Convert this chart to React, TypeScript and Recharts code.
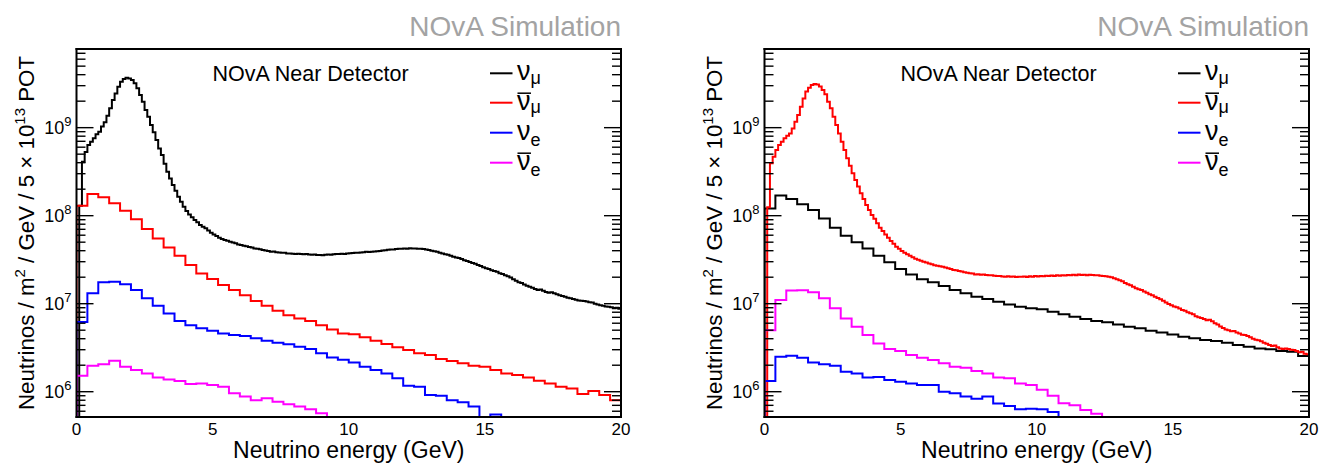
import React from 'react';
import { LineChart, Line, XAxis, YAxis } from 'recharts';

// ---------- axis ranges & ticks ----------
const Y_MIN = 5.16e5;
const Y_MAX = 7.83e9;
const E_MAX = 20;
const FINE_BIN = 0.1;
const COARSE_BIN = 0.4;

const xLabelTicks = [0, 5, 10, 15, 20];
const xMarkTicks = [0, 1, 2, 3, 4, 5, 6, 7, 8, 9, 10, 11, 12, 13, 14, 15, 16, 17, 18, 19, 20];
const yLabelTicks = [1e6, 1e7, 1e8, 1e9];
const yMarkTicks = [
  6e5, 7e5, 8e5, 9e5,
  1e6, 2e6, 3e6, 4e6, 5e6, 6e6, 7e6, 8e6, 9e6,
  1e7, 2e7, 3e7, 4e7, 5e7, 6e7, 7e7, 8e7, 9e7,
  1e8, 2e8, 3e8, 4e8, 5e8, 6e8, 7e8, 8e8, 9e8,
  1e9, 2e9, 3e9, 4e9, 5e9, 6e9, 7e9,
];

// ---------- texts ----------
const simLabel = 'NOvA Simulation';
const detectorLabel = 'NOvA Near Detector';
const xTitle = 'Neutrino energy (GeV)';
const legendEntries = [
  { base: 'ν', sub: 'μ', anti: false, color: '#000000' },
  { base: 'ν', sub: 'μ', anti: true, color: '#ff0000' },
  { base: 'ν', sub: 'e', anti: false, color: '#0000ff' },
  { base: 'ν', sub: 'e', anti: true, color: '#ff00ff' },
];

// ---------- FHC (left) ----------
const fhcNumu = [
  2.0e5, 1.3e8, 4.1e8, 5.3e8, 6.35e8, 6.9e8, 7.6e8, 8.4e8, 9.0e8, 1.03e9,
  1.15e9, 1.37e9, 1.66e9, 2.06e9, 2.45e9, 2.92e9, 3.33e9, 3.57e9, 3.70e9, 3.63e9,
  3.48e9, 3.19e9, 2.8e9, 2.35e9, 1.97e9, 1.59e9, 1.33e9, 1.07e9, 8.85e8, 7.24e8,
  5.8e8, 4.9e8, 3.9e8, 3.16e8, 2.65e8, 2.23e8, 1.92e8, 1.64e8, 1.44e8, 1.26e8,
  1.13e8, 1.03e8, 9.57e7, 8.93e7, 8.4e7, 7.83e7, 7.5e7, 7.18e7, 6.8e7, 6.41e7,
  6.13e7, 5.87e7, 5.62e7, 5.45e7, 5.3e7, 5.2e7, 5.05e7, 4.95e7, 4.85e7, 4.72e7,
  4.65e7, 4.55e7, 4.5e7, 4.42e7, 4.35e7, 4.25e7, 4.2e7, 4.15e7, 4.08e7, 4.03e7,
  3.98e7, 3.9e7, 3.93e7, 3.85e7, 3.82e7, 3.78e7, 3.8e7, 3.73e7, 3.72e7, 3.7e7,
  3.68e7, 3.7e7, 3.66e7, 3.65e7, 3.67e7, 3.62e7, 3.6e7, 3.62e7, 3.57e7, 3.58e7,
  3.55e7, 3.6e7, 3.62e7, 3.6e7, 3.65e7, 3.66e7, 3.68e7, 3.7e7, 3.68e7, 3.72e7,
  3.75e7, 3.77e7, 3.8e7, 3.78e7, 3.82e7, 3.85e7, 3.88e7, 3.86e7, 3.9e7, 3.93e7,
  3.95e7, 3.98e7, 4.02e7, 4.05e7, 4.1e7, 4.14e7, 4.12e7, 4.17e7, 4.2e7, 4.22e7,
  4.25e7, 4.22e7, 4.26e7, 4.24e7, 4.25e7, 4.22e7, 4.2e7, 4.18e7, 4.12e7, 4.08e7,
  4.0e7, 3.95e7, 3.88e7, 3.8e7, 3.73e7, 3.65e7, 3.6e7, 3.5e7, 3.42e7, 3.35e7,
  3.3e7, 3.22e7, 3.12e7, 3.05e7, 2.98e7, 2.9e7, 2.85e7, 2.75e7, 2.68e7, 2.6e7,
  2.52e7, 2.48e7, 2.4e7, 2.35e7, 2.3e7, 2.22e7, 2.18e7, 2.1e7, 2.05e7, 1.98e7,
  1.9e7, 1.82e7, 1.75e7, 1.72e7, 1.65e7, 1.6e7, 1.56e7, 1.52e7, 1.47e7, 1.43e7,
  1.45e7, 1.4e7, 1.36e7, 1.33e7, 1.35e7, 1.31e7, 1.28e7, 1.25e7, 1.22e7, 1.2e7,
  1.17e7, 1.15e7, 1.13e7, 1.11e7, 1.09e7, 1.08e7, 1.07e7, 1.06e7, 1.04e7, 1.03e7,
  1.0e7, 9.8e6, 9.6e6, 9.5e6, 9.3e6, 9.25e6, 9.1e6, 8.9e6, 9.0e6, 8.75e6,
];
const fhcNumubar = [
  1.30e8, 1.76e8, 1.62e8, 1.38e8, 1.14e8, 9.1e7, 7.05e7, 5.5e7, 4.36e7, 3.5e7,
  2.75e7, 2.21e7, 1.91e7, 1.63e7, 1.43e7, 1.25e7, 1.07e7, 9.5e6, 8.3e6, 7.4e6,
  6.8e6, 6.35e6, 5.7e6, 5.1e6, 4.6e6, 4.5e6, 4.15e6, 3.8e6, 3.48e6, 3.19e6,
  2.97e6, 2.73e6, 2.61e6, 2.35e6, 2.23e6, 2.1e6, 1.97e6, 1.92e6, 1.76e6, 1.61e6,
  1.55e6, 1.45e6, 1.33e6, 1.24e6, 1.14e6, 1.09e6, 9.4e5, 1.02e6, 9.2e5, 8.0e5,
];
const fhcNue = [
  6.2e6, 1.31e7, 1.75e7, 1.78e7, 1.66e7, 1.43e7, 1.15e7, 9.5e6, 7.76e6, 6.35e6,
  5.7e6, 5.25e6, 4.93e6, 4.6e6, 4.4e6, 4.3e6, 4.04e6, 3.8e6, 3.6e6, 3.45e6,
  3.25e6, 3.05e6, 2.73e6, 2.45e6, 2.3e6, 2.15e6, 1.92e6, 1.76e6, 1.61e6, 1.42e6,
  1.17e6, 1.14e6, 9.2e5, 9.0e5, 8.0e5, 7.6e5, 6.8e5, 4.6e5, 5.5e5, 4.2e5,
  3.9e5, 3.6e5, 3.3e5, 3.1e5, 2.8e5, 2.6e5, 2.4e5, 2.2e5, 2.0e5, 1.8e5,
];
const fhcNuebar = [
  1.52e6, 1.97e6, 2.05e6, 2.25e6, 1.92e6, 1.76e6, 1.61e6, 1.45e6, 1.38e6, 1.32e6,
  1.22e6, 1.24e6, 1.19e6, 1.14e6, 9.6e5, 8.8e5, 8.0e5, 8.4e5, 7.7e5, 7.2e5,
  6.8e5, 6.3e5, 5.7e5, 5.0e5, 4.7e5, 4.4e5, 4.2e5, 4.0e5, 3.7e5, 3.5e5,
  3.3e5, 3.1e5, 2.9e5, 2.8e5, 2.6e5, 2.5e5, 2.3e5, 2.2e5, 2.0e5, 1.9e5,
  1.8e5, 1.7e5, 1.6e5, 1.5e5, 1.4e5, 1.3e5, 1.2e5, 1.1e5, 1.0e5, 9.0e4,
];

// ---------- RHC (right) ----------
const rhcNumu = [
  1.21e8, 1.69e8, 1.55e8, 1.35e8, 1.16e8, 9.3e7, 7.3e7, 5.93e7, 4.98e7, 4.25e7,
  3.5e7, 2.95e7, 2.48e7, 2.15e7, 1.9e7, 1.75e7, 1.59e7, 1.43e7, 1.31e7, 1.2e7,
  1.13e7, 1.05e7, 9.8e6, 9.25e6, 8.85e6, 8.63e6, 8.1e6, 7.57e6, 7.1e6, 6.7e6,
  6.36e6, 6.14e6, 5.82e6, 5.48e6, 5.25e6, 4.93e6, 4.72e6, 4.48e6, 4.22e6, 4.04e6,
  3.87e6, 3.77e6, 3.6e6, 3.39e6, 3.25e6, 3.1e6, 3.03e6, 2.9e6, 2.85e6, 2.55e6,
];
const rhcNumubar = [
  2.0e5, 1.25e8, 3.94e8, 4.68e8, 5.57e8, 6.35e8, 6.93e8, 7.56e8, 8.1e8, 8.6e8,
  9.8e8, 1.17e9, 1.39e9, 1.73e9, 2.15e9, 2.57e9, 2.85e9, 3.05e9, 3.14e9, 3.1e9,
  2.93e9, 2.68e9, 2.39e9, 1.97e9, 1.66e9, 1.33e9, 1.07e9, 8.6e8, 6.93e8, 5.57e8,
  4.48e8, 3.7e8, 3.03e8, 2.54e8, 2.14e8, 1.8e8, 1.55e8, 1.32e8, 1.16e8, 1.02e8,
  9.2e7, 8.2e7, 7.3e7, 6.7e7, 6.13e7, 5.62e7, 5.15e7, 4.8e7, 4.44e7, 4.2e7,
  3.98e7, 3.8e7, 3.64e7, 3.5e7, 3.38e7, 3.25e7, 3.15e7, 3.08e7, 3.0e7, 2.93e7,
  2.86e7, 2.8e7, 2.74e7, 2.7e7, 2.66e7, 2.63e7, 2.58e7, 2.52e7, 2.48e7, 2.42e7,
  2.4e7, 2.35e7, 2.32e7, 2.28e7, 2.25e7, 2.22e7, 2.2e7, 2.15e7, 2.16e7, 2.13e7,
  2.14e7, 2.12e7, 2.1e7, 2.11e7, 2.08e7, 2.06e7, 2.07e7, 2.04e7, 2.03e7, 2.05e7,
  2.02e7, 2.04e7, 2.01e7, 2.03e7, 2.02e7, 2.04e7, 2.01e7, 2.05e7, 2.03e7, 2.06e7,
  2.04e7, 2.07e7, 2.05e7, 2.08e7, 2.06e7, 2.09e7, 2.07e7, 2.1e7, 2.08e7, 2.11e7,
  2.09e7, 2.12e7, 2.1e7, 2.13e7, 2.11e7, 2.14e7, 2.12e7, 2.13e7, 2.11e7, 2.13e7,
  2.12e7, 2.1e7, 2.11e7, 2.08e7, 2.06e7, 2.05e7, 2.02e7, 2.0e7, 1.95e7, 1.9e7,
  1.85e7, 1.8e7, 1.72e7, 1.66e7, 1.62e7, 1.56e7, 1.5e7, 1.46e7, 1.43e7, 1.38e7,
  1.33e7, 1.28e7, 1.25e7, 1.2e7, 1.16e7, 1.12e7, 1.08e7, 1.03e7, 9.9e6, 9.6e6,
  9.3e6, 9.1e6, 8.8e6, 8.5e6, 8.3e6, 8.0e6, 7.8e6, 7.6e6, 7.2e6, 7.0e6,
  6.9e6, 6.7e6, 6.5e6, 6.55e6, 6.3e6, 6.0e6, 5.8e6, 5.5e6, 5.3e6, 5.1e6,
  5.0e6, 4.85e6, 4.9e6, 4.7e6, 4.6e6, 4.45e6, 4.4e6, 4.3e6, 4.15e6, 4.0e6,
  3.9e6, 3.85e6, 3.75e6, 3.6e6, 3.5e6, 3.4e6, 3.3e6, 3.35e6, 3.2e6, 3.1e6,
  3.05e6, 3.1e6, 3.05e6, 3.0e6, 2.98e6, 2.9e6, 2.8e6, 2.85e6, 2.7e6, 2.66e6,
];
const rhcNue = [
  1.32e6, 2.5e6, 2.57e6, 2.43e6, 2.15e6, 2.05e6, 1.97e6, 1.69e6, 1.61e6, 1.45e6,
  1.47e6, 1.36e6, 1.3e6, 1.24e6, 1.19e6, 1.19e6, 1.0e6, 9.6e5, 8.8e5, 8.3e5,
  8.8e5, 7.36e5, 6.9e5, 6.3e5, 6.4e5, 6.3e5, 5.9e5, 4.8e5, 4.5e5, 4.2e5,
  3.9e5, 3.6e5, 3.4e5, 3.2e5, 3.0e5, 2.8e5, 2.6e5, 2.4e5, 2.3e5, 2.1e5,
  2.0e5, 1.9e5, 1.8e5, 1.7e5, 1.6e5, 1.5e5, 1.4e5, 1.3e5, 1.2e5, 1.1e5,
];
const rhcNuebar = [
  5.0e6, 1.1e7, 1.41e7, 1.42e7, 1.35e7, 1.15e7, 8.85e6, 6.8e6, 5.48e6, 4.4e6,
  3.54e6, 3.05e6, 2.9e6, 2.61e6, 2.43e6, 2.29e6, 2.1e6, 1.92e6, 1.87e6, 1.72e6,
  1.61e6, 1.45e6, 1.42e6, 1.24e6, 1.19e6, 1.05e6, 9.0e5, 7.4e5, 7.0e5, 6.2e5,
  5.6e5, 4.9e5, 4.6e5, 4.3e5, 4.0e5, 3.7e5, 3.4e5, 3.2e5, 3.0e5, 2.8e5,
  2.6e5, 2.4e5, 2.2e5, 2.0e5, 1.9e5, 1.8e5, 1.7e5, 1.6e5, 1.5e5, 1.4e5,
];

// ---------- helpers ----------
type Pt = { x: number; y: number };
function toSteps(values: number[], binWidth: number): Pt[] {
  const pts: Pt[] = [{ x: 0, y: Y_MIN }];
  values.forEach((v, i) => {
    pts.push({ x: Math.round(i * binWidth * 1000) / 1000, y: Math.max(v, Y_MIN) });
  });
  pts.push({ x: E_MAX, y: Math.max(values[values.length - 1], Y_MIN) });
  return pts;
}

const FONT = '"Liberation Sans", Arial, Helvetica, sans-serif';

const isMajorY = (v: number) => {
  const l = Math.log10(v);
  return Math.abs(l - Math.round(l)) < 1e-6;
};

const renderXLabel = (p: any) => (
  <text x={p.x} y={p.y + 18} textAnchor="middle" fontSize={17} fill="#000" fontFamily={FONT}>
    {p.payload.value}
  </text>
);
const renderYLabel = (p: any) => (
  <text x={p.x - 5} y={p.y + 6.5} textAnchor="end" fontSize={18} fill="#000" fontFamily={FONT}>
    10
    <tspan dy={-8} fontSize={13}>{Math.round(Math.log10(p.payload.value))}</tspan>
  </text>
);
const makeXMark = (dir: number) => (p: any) => {
  const len = p.payload.value % 5 === 0 ? 13 : 7;
  return <line x1={p.x} y1={p.y} x2={p.x} y2={p.y + dir * len} stroke="#000" strokeWidth={1.4} />;
};
const makeYMark = (dir: number) => (p: any) => {
  const len = isMajorY(p.payload.value) ? 17 : 9;
  return <line x1={p.x} y1={p.y} x2={p.x + dir * len} y2={p.y} stroke="#000" strokeWidth={1.4} />;
};
const bottomMark = makeXMark(-1);
const topMark = makeXMark(1);
const leftMark = makeYMark(1);
const rightMark = makeYMark(-1);

const frameLine = { stroke: '#000', strokeWidth: 2, strokeLinecap: 'square' as const };

type Series = { key: string; values: number[]; bin: number; color: string };

function Panel({ series }: { series: Series[] }) {
  return (
    <LineChart width={645} height={465} margin={{ top: 49, right: 24, bottom: 18, left: 36.5 }}>
      <XAxis xAxisId="lab" dataKey="x" type="number" domain={[0, E_MAX]} allowDataOverflow
        ticks={xLabelTicks} interval={0} height={30} tickSize={0} tickMargin={0}
        axisLine={false} tickLine={false} tick={renderXLabel} />
      <XAxis xAxisId="bt" type="number" domain={[0, E_MAX]} allowDataOverflow orientation="bottom" mirror
        ticks={xMarkTicks} interval={0} height={1} tickSize={0} tickMargin={0}
        axisLine={frameLine} tickLine={false} tick={bottomMark} />
      <XAxis xAxisId="tp" type="number" domain={[0, E_MAX]} allowDataOverflow orientation="top" mirror
        ticks={xMarkTicks} interval={0} height={1} tickSize={0} tickMargin={0}
        axisLine={frameLine} tickLine={false} tick={topMark} />
      <YAxis yAxisId="lab" type="number" scale="log" domain={[Y_MIN, Y_MAX]} allowDataOverflow
        ticks={yLabelTicks} interval={0} width={40} tickSize={0} tickMargin={0}
        axisLine={false} tickLine={false} tick={renderYLabel} />
      <YAxis yAxisId="lt" type="number" scale="log" domain={[Y_MIN, Y_MAX]} allowDataOverflow orientation="left" mirror
        ticks={yMarkTicks} interval={0} width={1} tickSize={0} tickMargin={0}
        axisLine={frameLine} tickLine={false} tick={leftMark} />
      <YAxis yAxisId="rt" type="number" scale="log" domain={[Y_MIN, Y_MAX]} allowDataOverflow orientation="right" mirror
        ticks={yMarkTicks} interval={0} width={1} tickSize={0} tickMargin={0}
        axisLine={frameLine} tickLine={false} tick={rightMark} />
      {series.map((s) => (
        <Line key={s.key} xAxisId="lab" yAxisId="lab" data={toSteps(s.values, s.bin)} dataKey="y"
          type="stepAfter" stroke={s.color} strokeWidth={2} dot={false} activeDot={false}
          isAnimationActive={false} />
      ))}
    </LineChart>
  );
}

function PanelText({ dx }: { dx: number }) {
  const legendYs = [73.3, 102.7, 132.7, 162.7];
  return (
    <g fontFamily={FONT}>
      <text x={621 + dx} y={36} textAnchor="end" fontSize={28} fill="#a3a3a3">{simLabel}</text>
      <text x={212.6 + dx} y={81} fontSize={21.5} fill="#000">{detectorLabel}</text>
      {legendEntries.map((e, i) => {
        const ly = legendYs[i];
        return (
          <g key={i}>
            <line x1={490 + dx} x2={512.5 + dx} y1={ly} y2={ly} stroke={e.color} strokeWidth={2} />
            <text x={517 + dx} y={ly + 7} fontSize={27} fill="#000">
              {e.base}
              <tspan dy={e.sub === 'e' ? 6.5 : 3.5} fontSize={18}>{e.sub}</tspan>
            </text>
            {e.anti && (
              <line x1={517.5 + dx} x2={531 + dx} y1={ly - 9.5} y2={ly - 9.5} stroke="#000" strokeWidth={1.5} />
            )}
          </g>
        );
      })}
      <text x={348.75 + dx} y={458} textAnchor="middle" fontSize={23} fill="#000">{xTitle}</text>
      <text transform={`translate(${34 + dx},233) rotate(-90)`} textAnchor="middle" fontSize={22.3} fill="#000">
        Neutrinos / m<tspan dy={-9} fontSize={15}>2</tspan>
        <tspan dy={9}> / GeV / 5 × 10</tspan>
        <tspan dy={-9} fontSize={15}>13</tspan>
        <tspan dy={9}> POT</tspan>
      </text>
    </g>
  );
}

const leftSeries: Series[] = [
  { key: 'numu', values: fhcNumu, bin: FINE_BIN, color: '#000000' },
  { key: 'numubar', values: fhcNumubar, bin: COARSE_BIN, color: '#ff0000' },
  { key: 'nue', values: fhcNue, bin: COARSE_BIN, color: '#0000ff' },
  { key: 'nuebar', values: fhcNuebar, bin: COARSE_BIN, color: '#ff00ff' },
];
const rightSeries: Series[] = [
  { key: 'numu', values: rhcNumu, bin: COARSE_BIN, color: '#000000' },
  { key: 'numubar', values: rhcNumubar, bin: FINE_BIN, color: '#ff0000' },
  { key: 'nue', values: rhcNue, bin: COARSE_BIN, color: '#0000ff' },
  { key: 'nuebar', values: rhcNuebar, bin: COARSE_BIN, color: '#ff00ff' },
];

export default function App() {
  return (
    <div style={{ position: 'absolute', left: 0, top: 0, width: 1333, height: 465, background: '#fff', overflow: 'hidden', fontFamily: FONT }}>
      <div style={{ position: 'absolute', left: 0, top: 0 }}>
        <Panel series={leftSeries} />
      </div>
      <div style={{ position: 'absolute', left: 688, top: 0 }}>
        <Panel series={rightSeries} />
      </div>
      <svg width={1333} height={465} style={{ position: 'absolute', left: 0, top: 0, pointerEvents: 'none' }}>
        <PanelText dx={0} />
        <PanelText dx={688} />
      </svg>
    </div>
  );
}
